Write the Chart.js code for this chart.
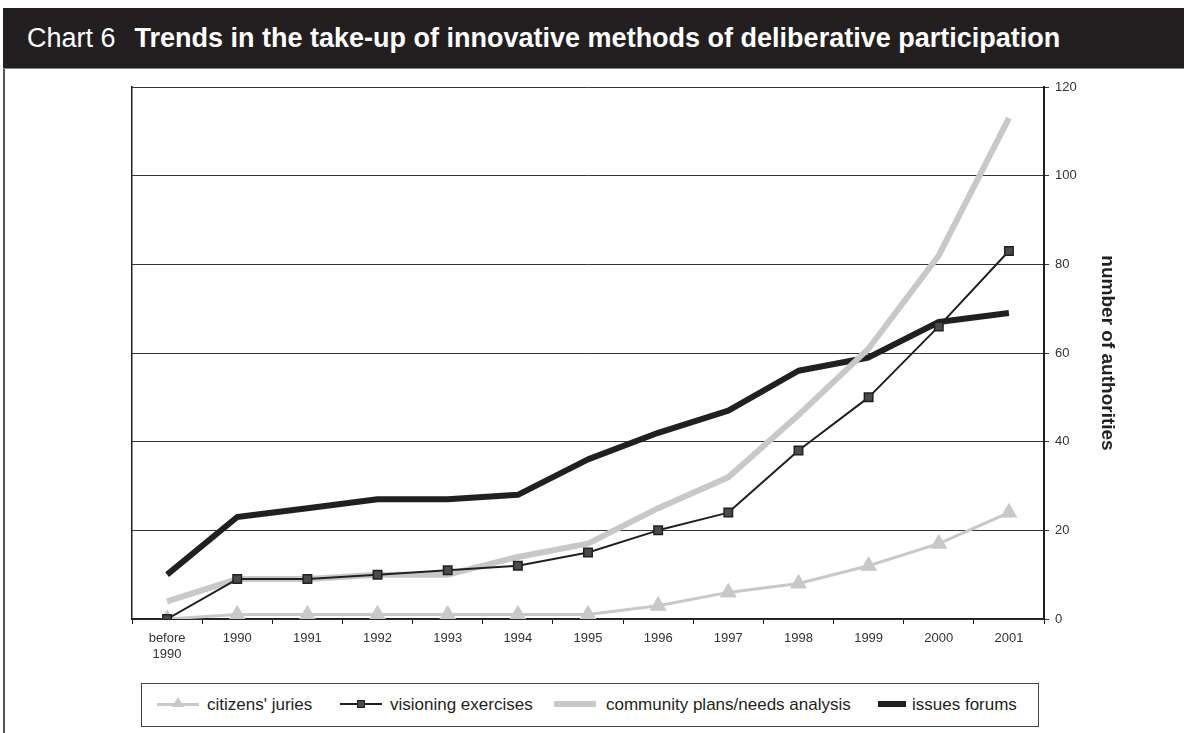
<!DOCTYPE html>
<html>
<head>
<meta charset="utf-8">
<script src="https://cdn.jsdelivr.net/npm/chart.js@4.4.1/dist/chart.umd.min.js"></script>
<style>
    html, body {
        margin: 0;
        padding: 0;
        background: #fff;
        width: 1184px;
        height: 733px;
        overflow: hidden;
        font-family: "Liberation Sans", Arial, sans-serif;
    }
    #titleBar {
        position: absolute;
        left: 3px;
        top: 8px;
        width: 1181px;
        height: 61px;
        background: #231f20;
        color: #fff;
        font-size: 27px;
        line-height: 60px;
        white-space: nowrap;
        border-bottom: 1px solid #888;
        box-sizing: border-box;
    }
    #titleBar span.lead { margin-left: 24px; margin-right: 19px; }
    #titleBar b { font-weight: bold; }
    #frameLeft {
        position: absolute;
        left: 3px;
        top: 69px;
        width: 2px;
        height: 664px;
        background: #555;
    }
    #chartBox {
        position: absolute;
        left: 0;
        top: 69px;
        width: 1184px;
        height: 612px;
    }
    #legend {
        position: absolute;
        left: 141px;
        top: 683px;
        width: 898px;
        height: 44px;
        border: 1.5px solid #444;
        box-sizing: border-box;
        font-size: 17px;
        color: #231f20;
    }
    .item {
        position: absolute;
        top: 0;
        height: 41px;
        line-height: 41px;
        white-space: nowrap;
    }
    .icon {
        position: absolute;
        top: 20px;
    }
</style>
</head>
<body>
<div id="titleBar"><span class="lead">Chart 6</span><b>Trends in the take-up of innovative methods of deliberative participation</b></div>
<div id="frameLeft"></div>
<div id="chartBox"><canvas id="trendChart" width="1184" height="612"></canvas></div>
<div id="legend"></div>

<script>
/* ================= DATA ================= */
const years = [["before", "1990"], "1990", "1991", "1992", "1993", "1994", "1995", "1996", "1997", "1998", "1999", "2000", "2001"];

const citizensJuries = [0, 1, 1, 1, 1, 1, 1, 3, 6, 8, 12, 17, 24];
const visioningExercises = [0, 9, 9, 10, 11, 12, 15, 20, 24, 38, 50, 66, 83];
const communityPlans = [4, 9, 9, 10, 10, 14, 17, 25, 32, 46, 61, 82, 113];
const issuesForums = [10, 23, 25, 27, 27, 28, 36, 42, 47, 56, 59, 67, 69];

const yTicks = [0, 20, 40, 60, 80, 100, 120];

const INK = "#231f20";
const LIGHT = "#c8c8c8";

/* ================= CHART ================= */
const ctx = document.getElementById("trendChart").getContext("2d");

const trendChart = new Chart(ctx, {
    type: "line",
    data: {
        labels: years,
        datasets: [
            {
                label: "citizens' juries",
                data: citizensJuries,
                borderColor: LIGHT,
                borderWidth: 3,
                pointStyle: "triangle",
                pointRadius: 9,
                pointBackgroundColor: LIGHT,
                pointBorderColor: LIGHT,
                pointBorderWidth: 1,
                order: 1
            },
            {
                label: "visioning exercises",
                data: visioningExercises,
                borderColor: INK,
                borderWidth: 2,
                pointStyle: "rect",
                pointRadius: 6,
                pointBackgroundColor: "#4a4a4a",
                pointBorderColor: INK,
                pointBorderWidth: 1.5,
                order: 0
            },
            {
                label: "community plans/needs analysis",
                data: communityPlans,
                borderColor: LIGHT,
                borderWidth: 6,
                pointRadius: 0,
                order: 2
            },
            {
                label: "issues forums",
                data: issuesForums,
                borderColor: INK,
                borderWidth: 6,
                pointRadius: 0,
                order: 3
            }
        ]
    },
    options: {
        responsive: false,
        animation: false,
        layout: {
            padding: { left: 132, right: 64, top: 18, bottom: 0 }
        },
        plugins: {
            legend: { display: false },
            tooltip: { enabled: false }
        },
        elements: {
            line: {
                tension: 0,
                fill: false,
                borderJoinStyle: "round",
                borderCapStyle: "butt"
            }
        },
        scales: {
            x: {
                offset: true,
                grid: {
                    offset: true,
                    drawOnChartArea: false,
                    drawTicks: true,
                    tickLength: 5,
                    color: INK,
                    lineWidth: 1
                },
                border: { display: true, color: INK, width: 1.5 },
                ticks: {
                    color: "#333",
                    font: { family: "Liberation Sans", size: 13 },
                    padding: 7,
                    maxRotation: 0,
                    autoSkip: false
                },
                afterFit: function (scale) { scale.height = 62; }
            },
            y: {
                position: "right",
                min: 0,
                max: 120,
                afterBuildTicks: function (scale) {
                    scale.ticks = yTicks.map(v => ({ value: v }));
                },
                grid: {
                    color: "#333",
                    lineWidth: 1,
                    tickLength: 5
                },
                border: { display: true, color: INK, width: 2 },
                ticks: {
                    color: "#333",
                    font: { family: "Liberation Sans", size: 13 },
                    padding: 6
                },
                title: {
                    display: true,
                    text: "number of authorities",
                    color: INK,
                    font: { family: "Liberation Sans", size: 19, weight: "bold" },
                    padding: { top: 1, bottom: 0 }
                },
                afterFit: function (scale) { scale.width = 76; }
            },
            yl: {
                position: "left",
                min: 0,
                max: 120,
                grid: { display: false },
                ticks: { display: false },
                border: { display: true, color: INK, width: 1.5 },
                afterFit: function (scale) { scale.width = 0; }
            }
        }
    }
});

/* ================= LEGEND ================= */
const legendLayout = [
    { ds: 0, iconLeft: 15, textLeft: 65 },
    { ds: 1, iconLeft: 198, textLeft: 248 },
    { ds: 2, iconLeft: 412, textLeft: 464 },
    { ds: 3, iconLeft: 736, textLeft: 770 }
];

const legend = document.getElementById("legend");
legendLayout.forEach(item => {
    const d = trendChart.data.datasets[item.ds];
    const w = item.ds === 3 ? 28 : 42;

    const line = document.createElement("div");
    line.className = "icon";
    line.style.left = item.iconLeft + "px";
    line.style.width = w + "px";
    line.style.height = d.borderWidth + "px";
    line.style.marginTop = (-d.borderWidth / 2) + "px";
    line.style.background = d.borderColor;
    legend.appendChild(line);

    if (d.pointStyle === "triangle") {
        const tri = document.createElement("div");
        tri.className = "icon";
        tri.style.left = (item.iconLeft + w / 2 - 6) + "px";
        tri.style.marginTop = "-7px";
        tri.style.width = "0";
        tri.style.height = "0";
        tri.style.borderLeft = "6px solid transparent";
        tri.style.borderRight = "6px solid transparent";
        tri.style.borderBottom = "10px solid " + d.pointBackgroundColor;
        legend.appendChild(tri);
    } else if (d.pointStyle === "rect") {
        const sq = document.createElement("div");
        sq.className = "icon";
        sq.style.left = (item.iconLeft + w / 2 - 4) + "px";
        sq.style.marginTop = "-4px";
        sq.style.width = "8px";
        sq.style.height = "8px";
        sq.style.background = d.pointBackgroundColor;
        sq.style.border = "1px solid " + d.pointBorderColor;
        sq.style.boxSizing = "border-box";
        legend.appendChild(sq);
    }

    const label = document.createElement("div");
    label.className = "item";
    label.style.left = item.textLeft + "px";
    label.textContent = d.label;
    legend.appendChild(label);
});
</script>
</body>
</html>
